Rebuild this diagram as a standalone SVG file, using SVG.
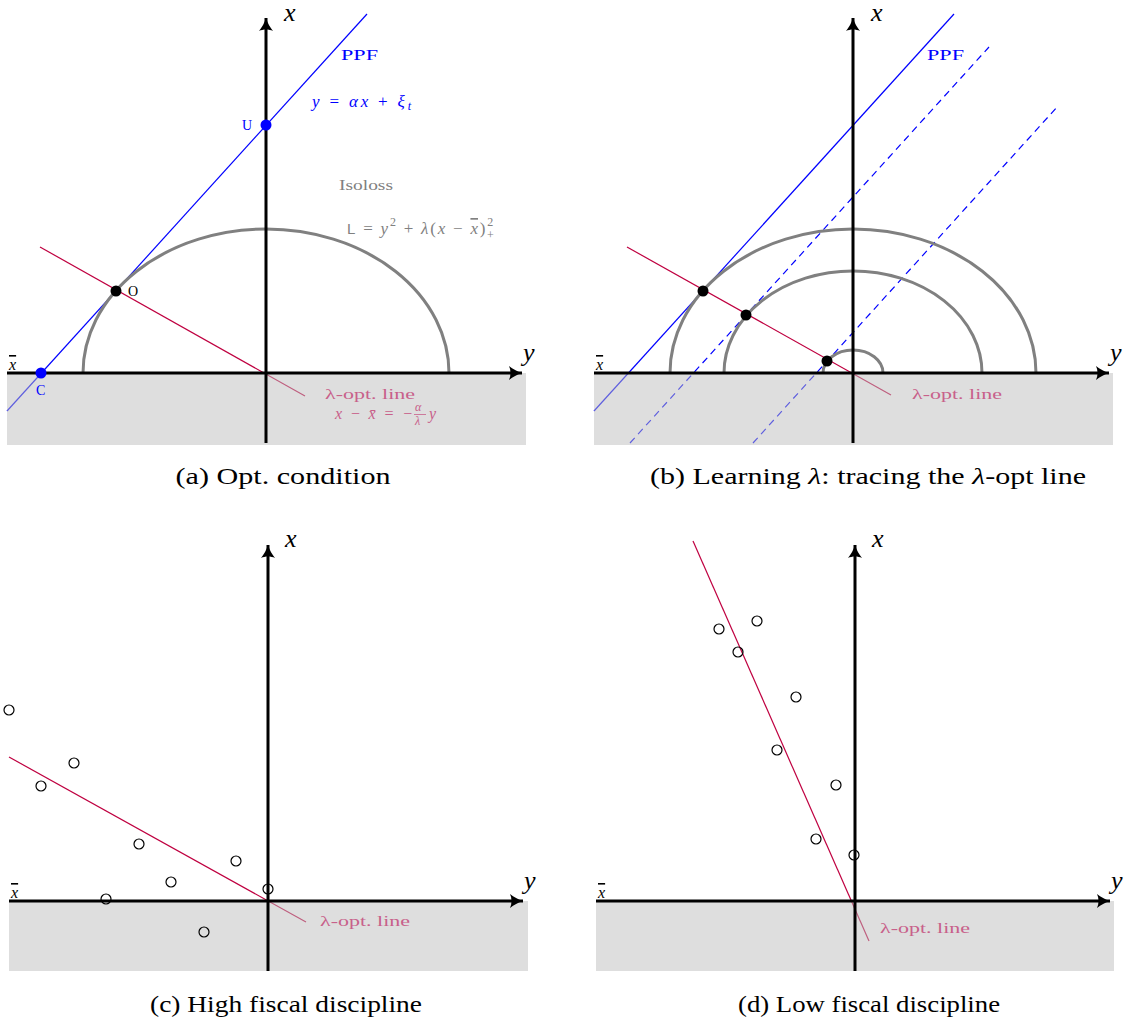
<svg xmlns="http://www.w3.org/2000/svg" width="1127" height="1021" viewBox="0 0 1127 1021">
<style>
  .ax{stroke:#000;stroke-width:3;fill:none}
  .shade{fill:#bdbdbd;fill-opacity:0.5;stroke:none}
  .ppf{stroke:#0000ff;stroke-width:1.2;fill:none}
  .dash{stroke:#0000ff;stroke-width:1.2;fill:none;stroke-dasharray:7 5}
  .iso{stroke:#808080;stroke-width:3;fill:none}
  .lam{stroke:#bf0040;stroke-width:1.2;fill:none}
  .pt{fill:#000}
  .bpt{fill:#0000ff}
  .obs{fill:none;stroke:#000;stroke-width:1.2}
  text{font-family:"Liberation Serif","DejaVu Serif",serif}
  .axl{font-size:26px;font-style:italic;fill:#000}
  .xbar{font-size:16px;font-style:italic;fill:#000;text-decoration:overline}
  .cap{font-size:23px;fill:#000}
  .blue{fill:#0000ff;font-size:14px}
  .bmath{fill:#0000ff;font-size:17px;font-style:italic}
  .gray{fill:#808080;font-size:14px}
  .gmath{fill:#808080;font-size:17px;font-style:italic}
  .pink{fill:#c8608a;font-size:14px}
  .pmath{fill:#c8608a;font-size:16px;font-style:italic}
  .lbl{fill:#000;font-size:14px}
</style>
<defs>
  <marker id="arr" markerUnits="userSpaceOnUse" markerWidth="20" markerHeight="20" refX="2" refY="0" viewBox="-14 -10 20 20" orient="auto">
    <path d="M2,0 C-3,-1.5 -7,-4 -11,-7 C-9,-3 -9,3 -11,7 C-7,4 -3,1.5 2,0 Z" fill="#000"/>
  </marker>
</defs>

<!-- Panel (a) -->
<g id="panel-a">
  <g id="a-curves">
    <line class="ppf" x1="7" y1="411" x2="367" y2="14"/>
    <path class="iso" d="M83,373 A183,144 0 0 1 449,373"/>
    <line class="lam" x1="40" y1="247" x2="305" y2="396"/>
  </g>
  <rect class="shade" x="7" y="373" width="519" height="72"/>
  <g id="a-axes">
    <line class="ax" x1="266" y1="443" x2="266" y2="18" marker-end="url(#arr)"/>
    <line class="ax" x1="7" y1="373" x2="522" y2="373" marker-end="url(#arr)"/>
  </g>
  <text class="axl" x="284" y="21">x</text>
  <text class="axl" x="523" y="361">y</text>
  <text class="xbar" x="9" y="370">x</text>
  <g id="a-U"><circle class="bpt" cx="266" cy="125" r="5.5"/><text class="blue" x="242" y="130">U</text></g>
  <g id="a-O"><circle class="pt" cx="116" cy="291" r="5.5"/><text class="lbl" x="128" y="296">O</text></g>
  <g id="a-C"><circle class="bpt" cx="41" cy="373" r="5.5"/><text class="blue" x="36" y="395">C</text></g>
  <text class="blue" x="341" y="60" textLength="37" lengthAdjust="spacingAndGlyphs">PPF</text>
  <text class="bmath" x="312" y="107" textLength="99">y <tspan font-style="normal">=</tspan> αx <tspan font-style="normal">+</tspan> ξ<tspan font-size="12" dy="3">t</tspan></text>
  <text class="gray" x="339" y="190" textLength="54" lengthAdjust="spacingAndGlyphs">Isoloss</text>
  <text class="gmath" x="347" y="234" textLength="148"><tspan font-family="'Liberation Sans','DejaVu Sans',sans-serif" font-style="normal" font-size="15">L</tspan> <tspan font-style="normal">=</tspan> y<tspan font-size="12" dy="-8" font-style="normal">2</tspan><tspan dy="8"> </tspan><tspan font-style="normal">+</tspan> λ<tspan font-style="normal">(</tspan>x <tspan font-style="normal">−</tspan> <tspan text-decoration="overline">x</tspan><tspan font-style="normal">)</tspan><tspan font-size="12" dy="-8" font-style="normal">2</tspan><tspan font-size="12" dx="-8" dy="13" font-style="normal">+</tspan></text>
  <text class="pink" x="325" y="399" textLength="90" lengthAdjust="spacingAndGlyphs">λ-opt. line</text>
  <text class="pmath" x="335" y="419"><tspan textLength="78">x − x̄ = −</tspan><tspan x="415" y="411" font-size="12">α</tspan><tspan x="415" y="425" font-size="12">λ</tspan><tspan x="429" y="419">y</tspan></text>
  <line x1="414" y1="414.5" x2="426" y2="414.5" stroke="#c8608a" stroke-width="0.8"/>
  <text class="cap" x="283" y="484" text-anchor="middle" textLength="215" lengthAdjust="spacingAndGlyphs">(a) Opt. condition</text>
</g>

<!-- Panel (b) -->
<g id="panel-b">
  <g id="b-curves">
    <line class="ppf" x1="594" y1="411" x2="954" y2="14"/>
    <line class="dash" x1="630" y1="443" x2="989" y2="47"/>
    <line class="dash" x1="753" y1="443" x2="1058" y2="106"/>
    <path class="iso" d="M670,373 A183,144 0 0 1 1036,373"/>
    <path class="iso" d="M724,373 A129,102 0 0 1 982,373"/>
    <path class="iso" d="M823,373 A30,23 0 0 1 883,373"/>
    <line class="lam" x1="627" y1="247" x2="891" y2="395"/>
  </g>
  <rect class="shade" x="594" y="373" width="519" height="72"/>
  <g id="b-axes">
    <line class="ax" x1="853" y1="443" x2="853" y2="18" marker-end="url(#arr)"/>
    <line class="ax" x1="594" y1="373" x2="1109" y2="373" marker-end="url(#arr)"/>
  </g>
  <text class="axl" x="871" y="21">x</text>
  <text class="axl" x="1110" y="361">y</text>
  <text class="xbar" x="596" y="370">x</text>
  <g id="b-p1"><circle class="pt" cx="703" cy="291" r="5.5"/></g>
  <g id="b-p2"><circle class="pt" cx="746" cy="315" r="5.5"/></g>
  <g id="b-p3"><circle class="pt" cx="827" cy="361" r="5.5"/></g>
  <text class="blue" x="927" y="60" textLength="37" lengthAdjust="spacingAndGlyphs">PPF</text>
  <text class="pink" x="912" y="399" textLength="90" lengthAdjust="spacingAndGlyphs">λ-opt. line</text>
  <text class="cap" x="868" y="484" text-anchor="middle" textLength="436" lengthAdjust="spacingAndGlyphs">(b) Learning <tspan font-style="italic">λ</tspan>: tracing the <tspan font-style="italic">λ</tspan>-opt line</text>
</g>

<!-- Panel (c) -->
<g id="panel-c">
  <line class="lam" x1="9" y1="757" x2="306" y2="922"/>
  <rect class="shade" x="9" y="901" width="519" height="70"/>
  <g id="c-axes">
    <line class="ax" x1="268" y1="971" x2="268" y2="545" marker-end="url(#arr)"/>
    <line class="ax" x1="9" y1="901" x2="523" y2="901" marker-end="url(#arr)"/>
  </g>
  <text class="axl" x="285" y="547">x</text>
  <text class="axl" x="524" y="889">y</text>
  <text class="xbar" x="11" y="898">x</text>
  <g id="c-obs">
    <circle class="obs" cx="9" cy="710" r="5"/>
    <circle class="obs" cx="74" cy="763" r="5"/>
    <circle class="obs" cx="41" cy="786" r="5"/>
    <circle class="obs" cx="139" cy="844" r="5"/>
    <circle class="obs" cx="236" cy="861" r="5"/>
    <circle class="obs" cx="171" cy="882" r="5"/>
    <circle class="obs" cx="106" cy="899" r="5"/>
    <circle class="obs" cx="268" cy="889" r="5"/>
    <circle class="obs" cx="204" cy="932" r="5"/>
  </g>
  <text class="pink" x="320" y="926" textLength="90" lengthAdjust="spacingAndGlyphs">λ-opt. line</text>
  <text class="cap" x="286" y="1012" text-anchor="middle" textLength="272" lengthAdjust="spacingAndGlyphs">(c) High fiscal discipline</text>
</g>

<!-- Panel (d) -->
<g id="panel-d">
  <line class="lam" x1="693" y1="541" x2="869" y2="941"/>
  <rect class="shade" x="596" y="901" width="518" height="70"/>
  <g id="d-axes">
    <line class="ax" x1="855" y1="971" x2="855" y2="545" marker-end="url(#arr)"/>
    <line class="ax" x1="596" y1="901" x2="1110" y2="901" marker-end="url(#arr)"/>
  </g>
  <text class="axl" x="872" y="547">x</text>
  <text class="axl" x="1111" y="889">y</text>
  <text class="xbar" x="598" y="898">x</text>
  <g id="d-obs">
    <circle class="obs" cx="719" cy="629" r="5"/>
    <circle class="obs" cx="757" cy="621" r="5"/>
    <circle class="obs" cx="738" cy="652" r="5"/>
    <circle class="obs" cx="796" cy="697" r="5"/>
    <circle class="obs" cx="777" cy="750" r="5"/>
    <circle class="obs" cx="836" cy="785" r="5"/>
    <circle class="obs" cx="816" cy="839" r="5"/>
    <circle class="obs" cx="854" cy="855" r="5"/>
  </g>
  <text class="pink" x="880" y="933" textLength="90" lengthAdjust="spacingAndGlyphs">λ-opt. line</text>
  <text class="cap" x="869" y="1012" text-anchor="middle" textLength="262" lengthAdjust="spacingAndGlyphs">(d) Low fiscal discipline</text>
</g>
</svg>
